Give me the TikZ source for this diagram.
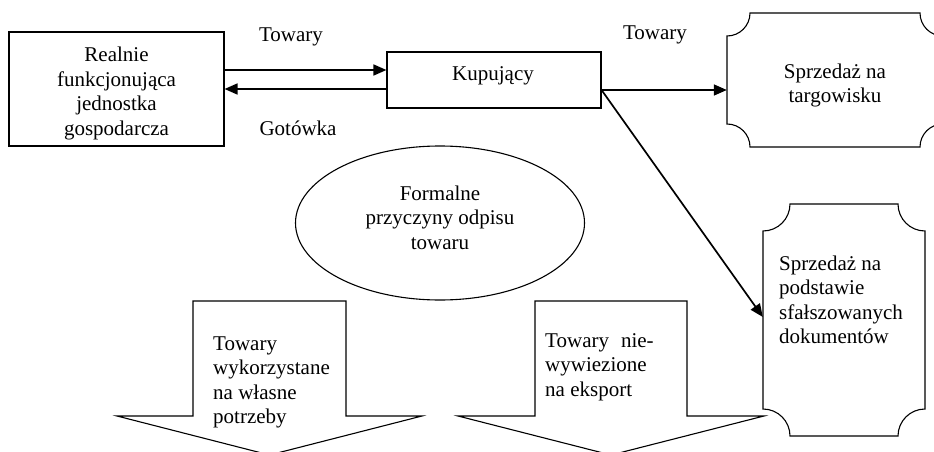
\documentclass[tikz,border=0pt]{standalone}
\usepackage{fontspec}
\setmainfont{Liberation Serif}
\usetikzlibrary{arrows.meta,shapes.geometric,calc}
\newcommand\plaquebox[5]{%
  \pgfmathsetmacro\pxa{#1}\pgfmathsetmacro\pya{#2}%
  \pgfmathsetmacro\pxb{#3}\pgfmathsetmacro\pyb{#4}%
  \pgfmathsetmacro\pr{#5}\pgfmathsetmacro\pk{0.552*#5}%
  \draw[shp] (\pxa+\pr,\pya) -- (\pxb-\pr,\pya)
    .. controls (\pxb-\pr,\pya+\pk) and (\pxb-\pk,\pya+\pr) .. (\pxb,\pya+\pr)
    -- (\pxb,\pyb-\pr)
    .. controls (\pxb-\pk,\pyb-\pr) and (\pxb-\pr,\pyb-\pk) .. (\pxb-\pr,\pyb)
    -- (\pxa+\pr,\pyb)
    .. controls (\pxa+\pr,\pyb-\pk) and (\pxa+\pk,\pyb-\pr) .. (\pxa,\pyb-\pr)
    -- (\pxa,\pya+\pr)
    .. controls (\pxa+\pk,\pya+\pr) and (\pxa+\pr,\pya+\pk) .. (\pxa+\pr,\pya)
    -- cycle;}
\begin{document}
\begin{tikzpicture}[x=1pt,y=-1pt,
  shp/.style={draw=black, line width=1.1pt},
  arr/.style={line width=1.7pt, -{Triangle[length=13pt,width=11pt]}},
  txt/.style={font=\fontsize{21}{24.5}\selectfont, inner sep=0pt},
]
\useasboundingbox (0,0) rectangle (934,452);
\clip (0,0) rectangle (934,452);
\fill[white] (0,0) rectangle (934,452);

% left box
\node[shp, minimum width=215pt, minimum height=114pt, inner sep=0pt] (L) at (116.5,89) {};
\node[txt, anchor=north, align=center] (Lt) at (116.5,44.4)
  {\strut Realnie\\funkcjonująca\\jednostka\\gospodarcza};

% buyer
\node[shp, minimum width=214pt, minimum height=56pt, inner sep=0pt] (K) at (494,80) {};
\node[txt, anchor=base] (Kt) at (493,81) {Kupujący};

% market plaque
\node[minimum width=216pt, minimum height=134pt, inner sep=0pt] (B1) at (835,80) {};
\plaquebox{727}{13}{943}{147}{23}
\node[txt, anchor=north, align=center] (B1t) at (835,60.9) {\strut Sprzedaż na\\targowisku};

% forged documents plaque
\node[minimum width=162pt, minimum height=232pt, inner sep=0pt] (B2) at (844,320) {};
\plaquebox{763}{204}{925}{436}{27}
\node[txt, anchor=north west, align=left] (B2t) at (779,252.9)
  {\strut Sprzedaż na\\podstawie\\sfałszowanych\\dokumentów};

% ellipse
\node[shp, ellipse, minimum width=289pt, minimum height=154pt, inner sep=0pt] (E) at (440,223) {};
\node[txt, anchor=north, align=center] (Et) at (440,182.9)
  {\strut Formalne\\przyczyny odpisu\\towaru};

% bottom arrows
\draw[shp] (193,301) -- (346,301) -- (346,416) -- (422,416) -- (269.5,455)
  -- (117,416) -- (193,416) -- cycle;
\node[txt, anchor=north west, align=left] (A1t) at (213,332.9)
  {\strut Towary\\wykorzystane\\na własne\\potrzeby};
\draw[shp] (535,301) -- (687,301) -- (687,416) -- (764,416) -- (611,455)
  -- (458,416) -- (535,416) -- cycle;
\node[txt, anchor=north west, align=left] (A2t) at (545,329.9)
  {\strut Towary\hspace{12pt}nie-\\wywiezione\\na eksport};

% labels
\node[txt, anchor=base] (t1) at (291,42) {Towary};
\node[txt, anchor=base] (t2) at (298,135) {Gotówka};
\node[txt, anchor=base] (t3) at (655,40) {Towary};

% connectors
\draw[arr] ([yshift=19pt]L.east) -- ([yshift=10pt]K.west);
\draw[arr] (K.west |- L.east) -- (L.east);
\coordinate (k1) at ([yshift=-10pt]K.east);
\draw[arr] (k1) -- (k1 -| B1.west);
\draw[arr] (k1) -- ([yshift=3pt]B2.west);
\end{tikzpicture}
\end{document}
